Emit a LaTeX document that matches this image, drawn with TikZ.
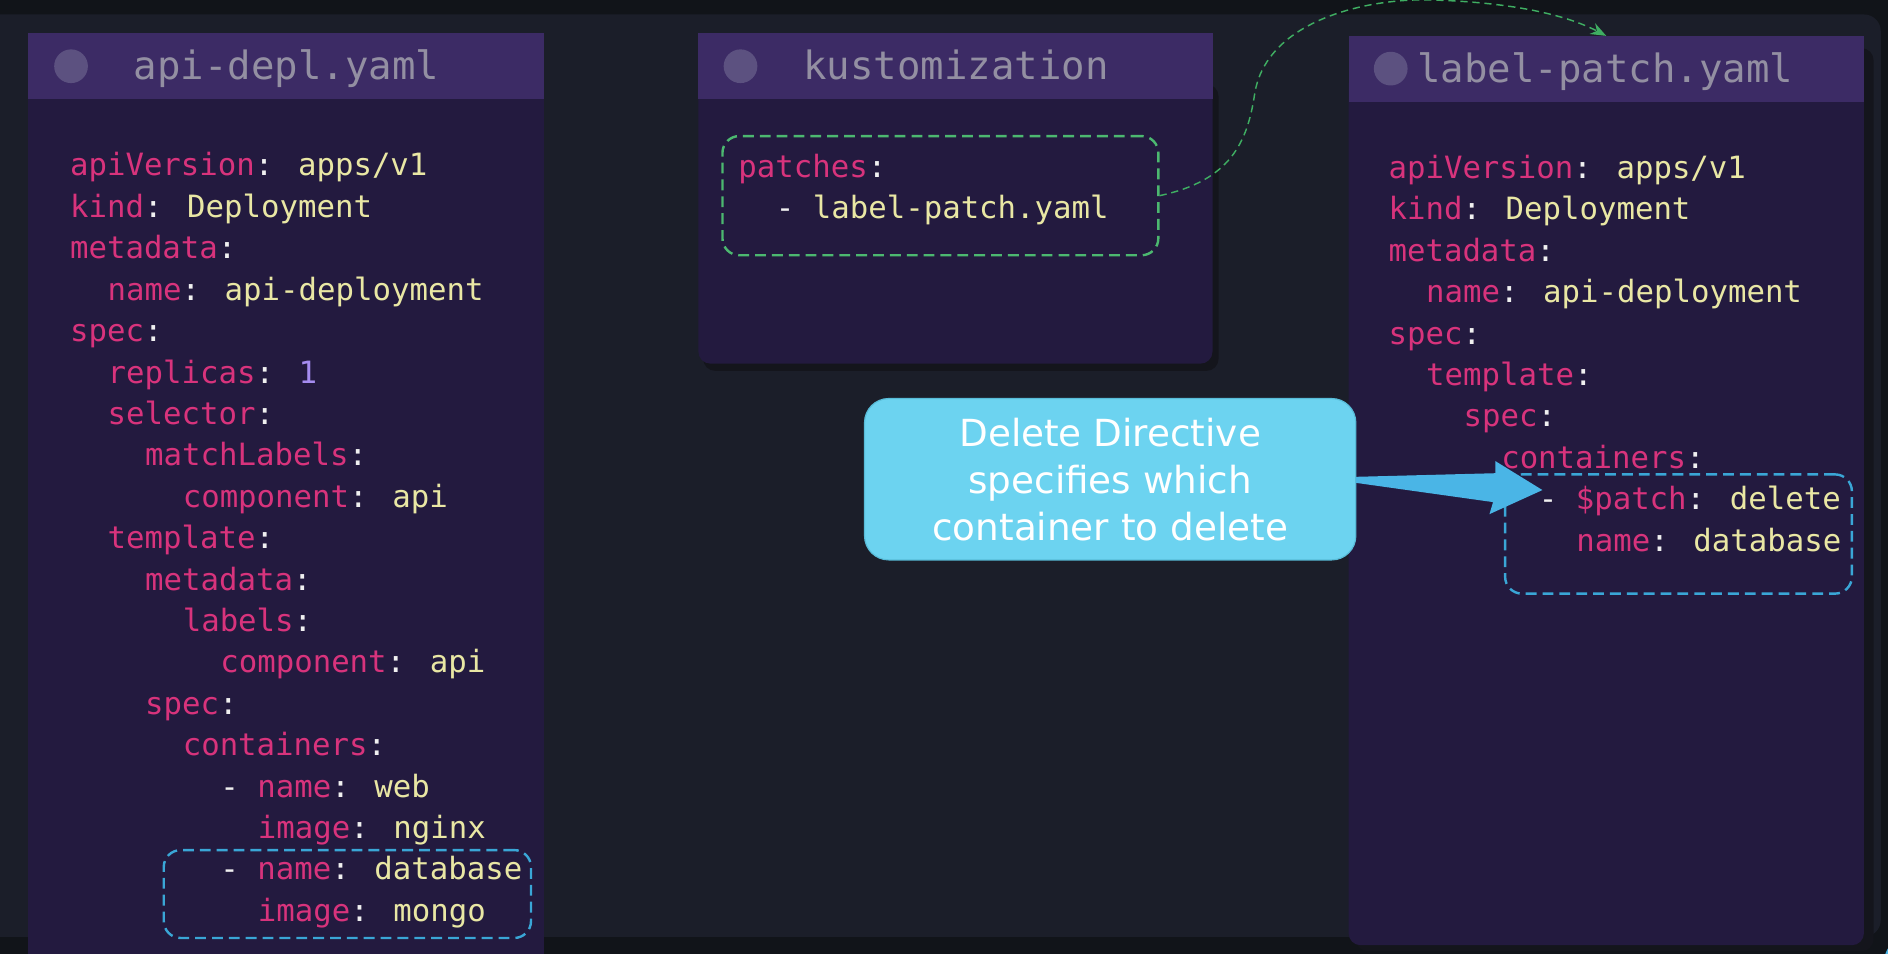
\documentclass[tikz,border=0pt]{standalone}
\usepackage{fontspec}
\usetikzlibrary{arrows.meta}
\newfontfamily\codefont{DejaVu Sans Mono}
\newfontfamily\callfont{DejaVu Sans}
\definecolor{outerbg}{HTML}{111419}
\definecolor{panelbg}{HTML}{1B1E29}
\definecolor{hdr}{HTML}{3C2B65}
\definecolor{bodyc}{HTML}{231A3F}
\definecolor{shadowc}{HTML}{14151C}
\definecolor{hdrtext}{HTML}{938FA2}
\definecolor{hdrdot}{HTML}{5C5180}
\definecolor{ckey}{HTML}{D8337C}
\definecolor{cval}{HTML}{E9E7A4}
\definecolor{cpun}{HTML}{F0F0F0}
\definecolor{cnum}{HTML}{A58CF0}
\definecolor{gdash}{HTML}{4CB870}
\definecolor{gline}{HTML}{3FAE62}
\definecolor{bdash}{HTML}{3AA6D6}
\definecolor{callfill}{HTML}{6CD3F0}
\definecolor{callline}{HTML}{58BCD8}
\definecolor{arrowc}{HTML}{4AB5E6}
\newcommand\yK[1]{\textcolor{ckey}{#1}}
\newcommand\yV[1]{\textcolor{cval}{#1}}
\newcommand\yN[1]{\textcolor{cnum}{#1}}
\tikzset{
  code/.style={font=\codefont\fontsize{25.5}{34}\selectfont, text=cpun, inner sep=0pt, anchor=mid west, yshift=-7pt},
  title/.style={font=\codefont\fontsize{32.4}{38}\selectfont, text=hdrtext, inner sep=0pt, anchor=mid west, yshift=-9pt},
  hdrbox/.style={fill=hdr, inner sep=0pt, minimum height=55pt},
  dot/.style={circle, fill=hdrdot, inner sep=0pt, minimum size=28pt},
  gbox/.style={draw=gdash, line width=2pt, dash pattern=on 9pt off 5pt, rounded corners=14pt, inner sep=0pt},
  bbox/.style={draw=bdash, line width=2pt, dash pattern=on 9pt off 5pt, rounded corners=14pt, inner sep=0pt},
  callout/.style={fill=callfill, draw=callline, line width=1pt, rounded corners=20pt, inner sep=0pt,
    minimum width=408pt, minimum height=134pt, align=center, text=white,
    font=\callfont\fontsize{31}{39}\selectfont},
  link/.style={draw=gline, line width=1.2pt, dash pattern=on 6pt off 4pt, -{Stealth[length=13pt,width=10pt]}}
}
\begin{document}
\begin{tikzpicture}[x=1pt,y=-1pt]
\useasboundingbox (0,0) rectangle (1568,792);
\clip (0,0) rectangle (1568,792);
% backgrounds
\fill[outerbg] (0,0) rectangle (1568,792);
\fill[panelbg, rounded corners=14pt] (-20,12) rectangle (1562,778);

% shadows
\fill[shadowc, rounded corners=10pt] (584,70) rectangle (1012,308);
\fill[shadowc, rounded corners=10pt] (1126,40) rectangle (1556,790);

% bodies
\fill[bodyc] (23,60) rectangle (452,800);
\fill[bodyc, rounded corners=10pt] (580,60) rectangle (1007,302);
\fill[bodyc, rounded corners=10pt] (1120,60) rectangle (1548,785);

% headers
\node[hdrbox, minimum width=429pt] (ha) at (237.5,54.5) {};
\node[hdrbox, minimum width=427pt] (hk) at (793.5,54.5) {};
\node[hdrbox, minimum width=428pt] (hl) at (1334,57.5) {};
\node[dot] (da) at (59,55) {};
\node[dot] (dk) at (615,55) {};
\node[dot] (dl) at (1155,57) {};
\node[title] (ta) at (111,55) {api-depl.yaml};
\node[title] (tk) at (667,55) {kustomization};
\node[title] (tl) at (1177,57) {label-patch.yaml};

% api-depl.yaml code
\node[code] (a1) at (58,137) {\yK{apiVersion}: \yV{apps/v1}};
\node[code] (a2) at (58,171.4) {\yK{kind}: \yV{Deployment}};
\node[code] (a3) at (58,205.8) {\yK{metadata}:};
\node[code] (a4) at (89.2,240.2) {\yK{name}: \yV{api-deployment}};
\node[code] (a5) at (58,274.6) {\yK{spec}:};
\node[code] (a6) at (89.2,309.0) {\yK{replicas}: \yN{1}};
\node[code] (a7) at (89.2,343.3) {\yK{selector}:};
\node[code] (a8) at (120.4,377.7) {\yK{matchLabels}:};
\node[code] (a9) at (151.6,412.1) {\yK{component}: \yV{api}};
\node[code] (a10) at (89.2,446.5) {\yK{template}:};
\node[code] (a11) at (120.4,480.9) {\yK{metadata}:};
\node[code] (a12) at (151.6,515.3) {\yK{labels}:};
\node[code] (a13) at (182.8,549.7) {\yK{component}: \yV{api}};
\node[code] (a14) at (120.4,584.1) {\yK{spec}:};
\node[code] (a15) at (151.6,618.5) {\yK{containers}:};
\node[code] (a16) at (182.8,652.9) {- \yK{name}: \yV{web}};
\node[code] (a17) at (214,687.2) {\yK{image}: \yV{nginx}};
\node[code] (a18) at (182.8,721.6) {- \yK{name}: \yV{database}};
\node[code] (a19) at (214,756.0) {\yK{image}: \yV{mongo}};
\node[bbox, minimum width=305pt, minimum height=73pt] (bl) at (288.5,742.5) {};

% kustomization code
\node[gbox, minimum width=362pt, minimum height=99pt] (kbox) at (781,162.5) {};
\node[code] (k1) at (613,138) {\yK{patches}:};
\node[code] (k2) at (644.2,172.4) {- \yV{label-patch.yaml}};

% label-patch.yaml code
\node[code] (l1) at (1153,139) {\yK{apiVersion}: \yV{apps/v1}};
\node[code] (l2) at (1153,173.4) {\yK{kind}: \yV{Deployment}};
\node[code] (l3) at (1153,207.8) {\yK{metadata}:};
\node[code] (l4) at (1184.2,242.2) {\yK{name}: \yV{api-deployment}};
\node[code] (l5) at (1153,276.6) {\yK{spec}:};
\node[code] (l6) at (1184.2,311.0) {\yK{template}:};
\node[code] (l7) at (1215.4,345.4) {\yK{spec}:};
\node[code] (l8) at (1246.6,379.8) {\yK{containers}:};
\node[code] (l9) at (1277.8,414.2) {- \yK{\$patch}: \yV{delete}};
\node[code] (l10) at (1309,448.6) {\yK{name}: \yV{database}};
\node[bbox, minimum width=288pt, minimum height=99pt] (br) at (1394,443.5) {};

% green dashed link
\draw[link] (kbox.east) .. controls (1022,150) and (1036,118) .. (1042,78)
  .. controls (1052,15) and (1140,-2) .. (1190,0)
  .. controls (1255,2) and (1300,12) .. (hl.north);

% callout and wedge arrow
\node[callout] (co) at (922,398) {Delete Directive\\specifies which\\container to delete};
\coordinate (tip) at (1281,407);
\fill[arrowc] (1126,396) -- (1242,393) -- (1242,383) -- (tip) -- (1237,427) -- (1240,417) -- (1126,401) -- cycle;

% corner fragment
\fill[arrowc] (1592,802) circle (28pt);
\end{tikzpicture}
\end{document}
